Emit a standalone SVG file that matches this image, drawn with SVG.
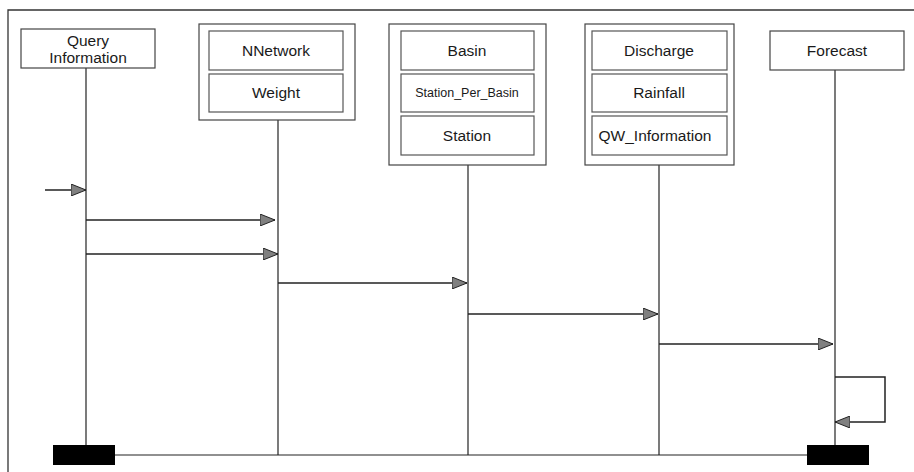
<svg xmlns="http://www.w3.org/2000/svg" width="914" height="472" viewBox="0 0 914 472">
<defs>
<marker id="ah" viewBox="0 0 15 12" refX="15" refY="6" markerWidth="15" markerHeight="12" markerUnits="userSpaceOnUse" orient="auto">
<path d="M0,0 L15,6 L0,12 Z" fill="#808080" stroke="#222" stroke-width="1"/>
</marker>
</defs>
<style>
.box{fill:#fff;stroke:#444;stroke-width:1.2}
.in{fill:#fff;stroke:#555;stroke-width:1.2}
.t{font-family:"Liberation Sans",Arial,sans-serif;font-size:15.5px;fill:#1a1a1a;text-anchor:middle}
.s{font-size:12.5px}
.life{stroke:#222;stroke-width:1.2;fill:none}
.msg{stroke:#222;stroke-width:1.5;fill:none;marker-end:url(#ah)}
.bar{fill:#000}
</style>
<rect width="914" height="472" fill="#fff"/>
<g id="frame"><path d="M8,472 L8,10 L914,10" fill="none" stroke="#333" stroke-width="1.3"/></g>
<g id="lifelines">
<line class="life" x1="86" y1="68" x2="86" y2="445"/>
<line class="life" x1="278" y1="120" x2="278" y2="455"/>
<line class="life" x1="468" y1="165" x2="468" y2="455"/>
<line class="life" x1="659" y1="165" x2="659" y2="455"/>
<line class="life" x1="835" y1="70" x2="835" y2="445"/>
<line class="life" x1="115" y1="455" x2="807" y2="455"/>
</g>
<g id="query"><rect class="box" x="21" y="29" width="134" height="39"/><text class="t" x="88" y="46">Query</text><text class="t" x="88" y="63">Information</text></g>
<g id="nnetwork-group"><rect class="box" x="199" y="24" width="156" height="96"/>
<g id="nnetwork"><rect class="in" x="209" y="31" width="134" height="39"/><text class="t" x="276" y="56">NNetwork</text></g>
<g id="weight"><rect class="in" x="209" y="74" width="134" height="38"/><text class="t" x="276" y="98">Weight</text></g>
</g>
<g id="basin-group"><rect class="box" x="389" y="24" width="157" height="141"/>
<g id="basin"><rect class="in" x="401" y="31" width="133" height="39"/><text class="t" x="467" y="56">Basin</text></g>
<g id="station-per-basin"><rect class="in" x="401" y="74" width="133" height="38"/><text class="t s" x="467" y="97">Station_Per_Basin</text></g>
<g id="station"><rect class="in" x="401" y="116" width="133" height="39"/><text class="t" x="467" y="141">Station</text></g>
</g>
<g id="discharge-group"><rect class="box" x="585" y="24" width="149" height="141"/>
<g id="discharge"><rect class="in" x="592" y="31" width="135" height="39"/><text class="t" x="659" y="56">Discharge</text></g>
<g id="rainfall"><rect class="in" x="592" y="74" width="135" height="38"/><text class="t" x="659" y="98">Rainfall</text></g>
<g id="qw"><rect class="in" x="592" y="116" width="135" height="39"/><text class="t" x="655" y="141">QW_Information</text></g>
</g>
<g id="forecast"><rect class="box" x="770" y="31" width="134" height="39"/><text class="t" x="837" y="56">Forecast</text></g>
<g id="connectors">
<line class="msg" x1="45" y1="190" x2="86" y2="190"/>
<line class="msg" x1="86" y1="220" x2="275" y2="220"/>
<line class="msg" x1="86" y1="254" x2="278" y2="254"/>
<line class="msg" x1="278" y1="283" x2="467" y2="283"/>
<line class="msg" x1="468" y1="314" x2="658" y2="314"/>
<line class="msg" x1="659" y1="344" x2="833" y2="344"/>
<path class="msg" d="M835,377 L885,377 L885,422 L835,422"/>
</g>
<g id="bars">
<rect class="bar" x="53" y="445" width="62" height="20"/>
<rect class="bar" x="807" y="445" width="62" height="20"/>
</g>
</svg>
